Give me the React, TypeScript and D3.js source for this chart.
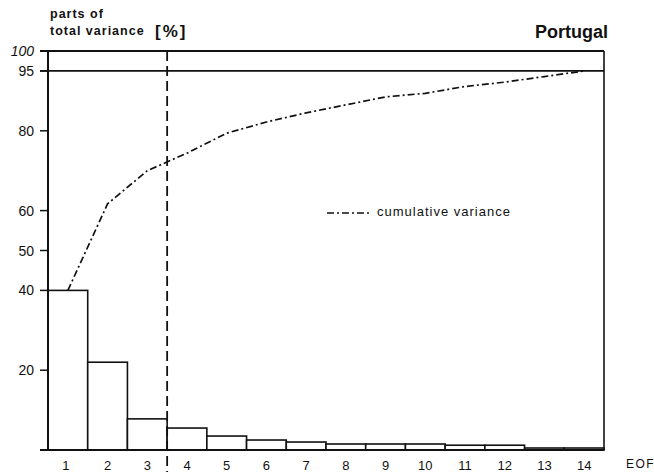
import React from "react";
import * as d3 from "d3";

const eofs = ["1","2","3","4","5","6","7","8","9","10","11","12","13","14"];
const variance = [40, 22, 7.8, 5.5, 3.5, 2.5, 2.0, 1.5, 1.5, 1.5, 1.2, 1.2, 0.5, 0.5];
const cumulative = [40, 61.7, 70, 74.4, 79.4, 82.2, 84.5, 86.5, 88.5, 89.4, 91.1, 92.2, 93.6, 95];
const yTicks = [20, 40, 50, 60, 80, 95, 100];
const refLines = [95, 100];
const cutAfter = "3";

const W = 654, H = 474;
const left = 48, right = 604, top = 51, bottom = 450;
const font = "'Liberation Sans', Arial, sans-serif";

export default function App() {
  const x = d3.scaleBand<string>().domain(eofs).range([left, right]).padding(0);
  const y = d3.scaleLinear().domain([0, 100]).range([bottom, top]);
  const bw = x.bandwidth();
  const line = d3.line<number>()
    .x((_, i) => (x(eofs[i]) as number) + bw / 2)
    .y((d) => y(d));
  const cutX = (x(cutAfter) as number) + bw;

  return (
    <svg width={W} height={H} style={{ position: "absolute", left: 0, top: 0, background: "#fff" }}
      fontFamily={font}>
      <rect x={0} y={0} width={W} height={H} fill="#fff" />
      {/* bars */}
      {variance.map((v, i) => (
        <rect key={i} x={x(eofs[i])} y={y(v)} width={bw} height={y(0) - y(v)}
          fill="#fff" stroke="#111" strokeWidth={1.6} />
      ))}
      {/* reference lines */}
      {refLines.map((r) => (
        <line key={r} x1={40} x2={right} y1={y(r)} y2={y(r)} stroke="#111" strokeWidth={1.8} />
      ))}
      {/* axes */}
      <line x1={left} x2={left} y1={y(100)} y2={y(0)} stroke="#111" strokeWidth={2} />
      <line x1={right} x2={right} y1={y(100)} y2={y(0)} stroke="#111" strokeWidth={1.6} />
      <line x1={40} x2={right} y1={y(0)} y2={y(0)} stroke="#111" strokeWidth={2} />
      {yTicks.map((t) => (
        <g key={t}>
          <line x1={40} x2={left} y1={y(t)} y2={y(t)} stroke="#111" strokeWidth={1.5} />
          <text x={34} y={y(t)} dy="0.36em" textAnchor="end" fontSize={14}
            fontStyle={t === 100 ? "italic" : "normal"} fill="#111">{t}</text>
        </g>
      ))}
      {eofs.map((e) => (
        <text key={e} x={(x(e) as number) + bw / 2 - (e === "1" ? 2 : 0)} y={470} textAnchor="middle"
          fontSize={13} fill="#111">{e}</text>
      ))}
      {/* cut line */}
      <line x1={cutX} x2={cutX} y1={y(100)} y2={472} stroke="#111" strokeWidth={1.8}
        strokeDasharray="10,5" />
      {/* cumulative */}
      <path d={line(cumulative) as string} fill="none" stroke="#111" strokeWidth={1.7}
        strokeDasharray="7,3,2,3" />
      {/* legend */}
      <line x1={327} x2={370} y1={213} y2={213} stroke="#111" strokeWidth={1.7}
        strokeDasharray="7,3,2,3" />
      <text x={377} y={216} fontSize={13} letterSpacing={1} fill="#111">cumulative  variance</text>
      {/* titles */}
      <text x={50} y={18} fontSize={12.5} fontWeight="bold" letterSpacing={1} fill="#111">parts  of</text>
      <text x={50} y={35} fontSize={12.5} fontWeight="bold" letterSpacing={1} fill="#111">total  variance</text>
      <text x={155} y={37} fontSize={17} fontWeight="bold" letterSpacing={2} fill="#111">[%]</text>
      <text x={608} y={38} textAnchor="end" fontSize={18} fontWeight="bold" fill="#111">Portugal</text>
      <text x={626} y={468} fontSize={12} letterSpacing={1.5} fill="#111">EOF</text>
    </svg>
  );
}
